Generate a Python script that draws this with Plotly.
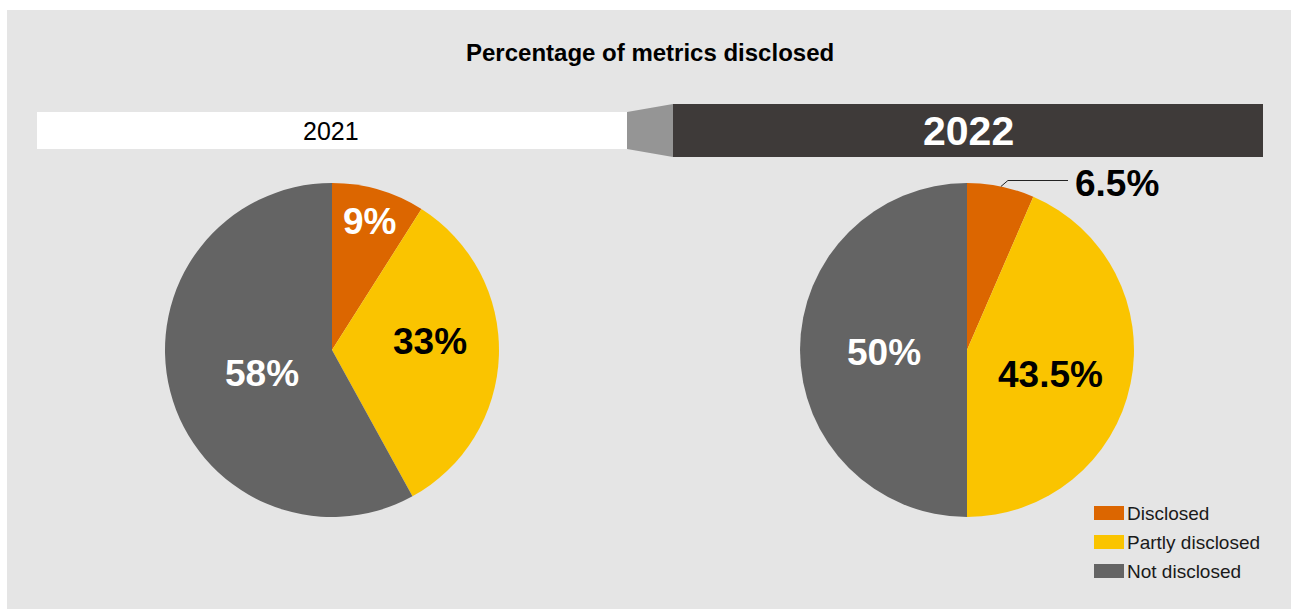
import math
import plotly.graph_objects as go

W, H = 1291, 610

# ---- data ----
title = "Percentage of metrics disclosed"
categories = ["Disclosed", "Partly disclosed", "Not disclosed"]
years = ["2021", "2022"]
values_2021 = [9, 33, 58]
values_2022 = [6.5, 43.5, 50]

# ---- styling ----
colors = ["#DC6600", "#FAC400", "#646464"]
label_colors = [["white", "black", "white"], ["black", "black", "white"]]
# (radial fraction of radius, angular nudge in degrees) for each in-slice label;
# None means the label sits outside the pie on a leader line
label_place = [
    [(0.80, 0), (0.59, -7), (0.44, -4)],
    [None, (0.52, 5), (0.50, -2)],
]
FONT = "Liberation Sans, Arial, Helvetica, sans-serif"
BG = "#E5E5E5"
R = 167
centers = [(332, 350), (967, 350)]
LABEL_SIZE = 37


def px_to_paper_x(px):
    return px / W


def px_to_paper_y(py):
    return 1 - py / H


fig = go.Figure()

# invisible trace so the pixel-space axes exist for shapes and text
fig.add_trace(go.Scatter(x=[0, W], y=[0, H], mode="markers",
                         marker=dict(opacity=0), hoverinfo="skip",
                         showlegend=False))

for (cx, cy), vals in zip(centers, [values_2021, values_2022]):
    fig.add_trace(go.Pie(
        labels=categories,
        values=vals,
        sort=False,
        direction="clockwise",
        rotation=0,
        marker=dict(colors=colors, line=dict(width=0)),
        textinfo="none",
        hoverinfo="label+value",
        showlegend=False,
        domain=dict(
            x=[px_to_paper_x(cx - R), px_to_paper_x(cx + R)],
            y=[px_to_paper_y(cy + R), px_to_paper_y(cy - R)],
        ),
    ))

fig.update_xaxes(range=[0, W], visible=False, domain=[0, 1], fixedrange=True)
fig.update_yaxes(range=[H, 0], visible=False, domain=[0, 1], fixedrange=True)

shapes = [
    # panel background
    dict(type="rect", x0=7, x1=W, y0=10, y1=609, fillcolor=BG,
         line=dict(width=0), layer="below"),
    # 2021 header bar
    dict(type="rect", x0=37, x1=627, y0=112, y1=149, fillcolor="white",
         line=dict(width=0), layer="below"),
    # connector between the two header bars
    dict(type="path", path="M 627,112 L 673,104 L 673,157 L 627,149 Z",
         fillcolor="#959595", line=dict(width=0), layer="below"),
    # 2022 header bar
    dict(type="rect", x0=673, x1=1263, y0=104, y1=157, fillcolor="#3E3A39",
         line=dict(width=0), layer="below"),
]

annotations = [
    dict(text=f"<b>{title}</b>", x=650, y=52, showarrow=False,
         font=dict(family=FONT, size=24, color="black"),
         xanchor="center", yanchor="middle"),
    dict(text=years[0], x=331, y=131, showarrow=False,
         font=dict(family=FONT, size=25, color="black"),
         xanchor="center", yanchor="middle"),
    dict(text=f"<b>{years[1]}</b>", x=968, y=131, showarrow=False,
         font=dict(family=FONT, size=41, color="white"),
         xanchor="center", yanchor="middle"),
]

for k, ((cx, cy), vals) in enumerate(zip(centers, [values_2021, values_2022])):
    total = sum(vals)
    start = 0.0
    for i, v in enumerate(vals):
        mid = (start + v / 2) / total * 360.0
        start += v
        text = f"<b>{v:g}%</b>"
        place = label_place[k][i]
        if place is None:
            # outside label with a leader line from the slice edge
            a = math.radians(mid)
            ex, ey = cx + R * math.sin(a), cy - R * math.cos(a)
            elbow_x, line_y, end_x = ex + 7, ey - 6, 1068
            shapes.append(dict(
                type="path",
                path=f"M {ex:.1f},{ey:.1f} L {elbow_x:.1f},{line_y:.1f} L {end_x},{line_y:.1f}",
                line=dict(color="#222222", width=1), layer="above"))
            annotations.append(dict(
                text=text, x=end_x + 5, y=line_y + 3, showarrow=False,
                font=dict(family=FONT, size=LABEL_SIZE, color=label_colors[k][i]),
                xanchor="left", yanchor="middle"))
        else:
            frac, nudge = place
            a = math.radians(mid + nudge)
            tx = cx + frac * R * math.sin(a)
            ty = cy - frac * R * math.cos(a)
            annotations.append(dict(
                text=text, x=tx, y=ty, showarrow=False,
                font=dict(family=FONT, size=LABEL_SIZE, color=label_colors[k][i]),
                xanchor="center", yanchor="middle"))

# legend drawn as swatches with labels
for i, (cat, col) in enumerate(zip(categories, colors)):
    yc = 513 + 29 * i
    shapes.append(dict(type="rect", x0=1094, x1=1124, y0=yc - 7, y1=yc + 7,
                       fillcolor=col, line=dict(width=0), layer="above"))
    annotations.append(dict(text=cat, x=1125, y=yc, showarrow=False,
                            font=dict(family=FONT, size=19, color="#1A1A1A"),
                            xanchor="left", yanchor="middle"))

fig.update_layout(
    width=W, height=H,
    margin=dict(l=0, r=0, t=0, b=0),
    paper_bgcolor="white",
    plot_bgcolor="rgba(0,0,0,0)",
    shapes=shapes,
    annotations=annotations,
    showlegend=False,
)

fig.write_html("out.html", config={"displayModeBar": False})
